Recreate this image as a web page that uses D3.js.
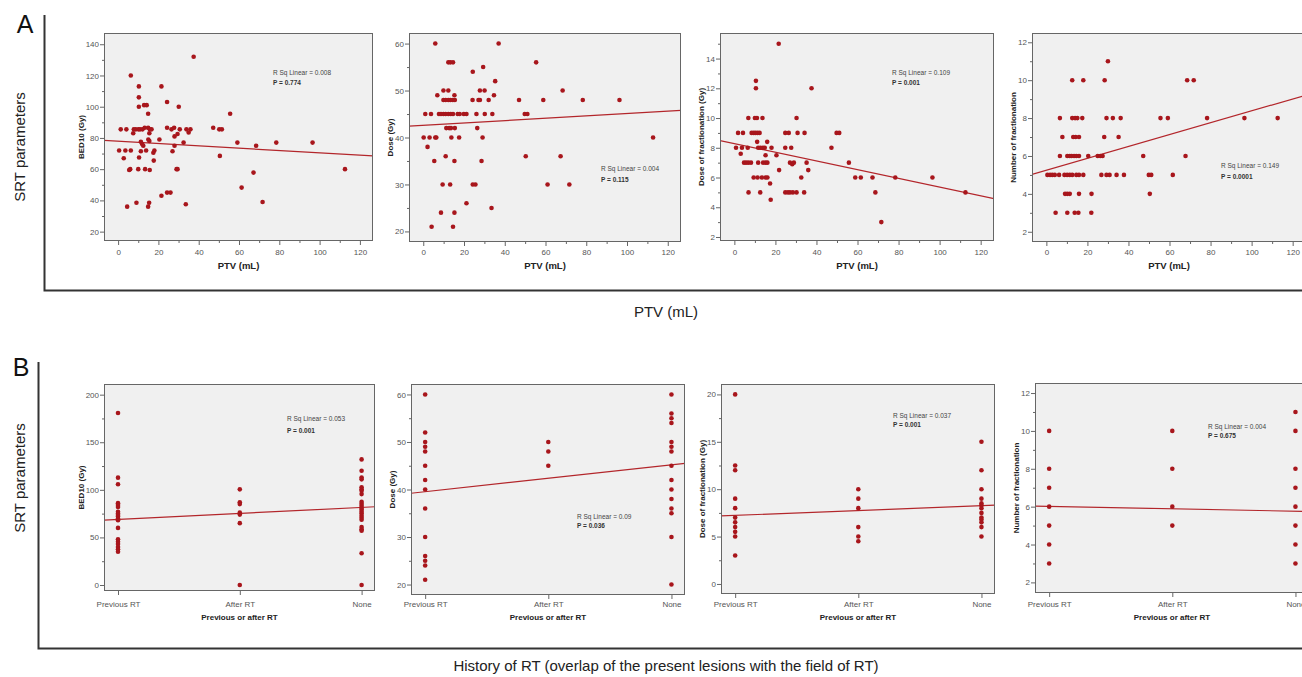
<!DOCTYPE html>
<html>
<head>
<meta charset="utf-8">
<script src="https://cdn.jsdelivr.net/npm/d3@7"></script>
<style>
body { margin: 0; background: #fff; }
svg { display: block; font-family: "Liberation Sans", Arial, sans-serif; }
</style>
</head>
<body>
<svg id="chart" width="1302" height="677"></svg>
<script>
// ------------------------------
// DATA
// ------------------------------

// row A: [PTV (mL), value]
var ptvBed = [[37.5,132],[6.3,120],[10.3,113],[21.5,113],[10.3,106],[24.3,103],[10.3,100],[30.1,100],[12.9,101],[14.2,101],[14.9,95.5],[55.6,95.5],
  [1.3,85.5],[4.1,85.5],[7.8,85.5],[8.8,85.5],[10.1,85.5],[10.9,85.5],[12.1,85.5],[13.2,86.5],[14.9,86.5],[15.7,85.5],[16.6,85.5],[24.3,86.5],[26.5,85.5],
  [27.8,86.5],[30.6,85.5],[33.9,85.5],[35.9,85.5],[47.2,86.5],[50.2,85.5],[51.5,85.5],[7.5,83],[15.5,83],[35,83.5],[28,81],[29.5,82.5],[20.5,79],[15,79],
  [11.3,77.5],[15.5,78],[12,76],[59.2,77],[96.5,77],[78.5,77],[32.5,77],[28,75],[68.5,75],[12.5,75],[0.5,72],[3.6,72],[6.3,72],[11.3,71.5],[13.9,72],[18,72],
  [27,71.5],[17.5,70.5],[2.8,67],[10.4,67.5],[50.5,68.5],[17.7,65.5],[6,60],[5.5,59.5],[10,60],[13.4,60],[15.7,59.5],[29,60],[29.5,60],[112.6,60],
  [67.2,57.8],[61.3,48.2],[24.3,45],[26,45],[21.5,43],[71.7,39],[9.1,38.5],[15.4,38.5],[33.6,37.5],[4.5,36],[14.9,36]];

var ptvDose = [[5.9,60],[37,60],[12.3,56],[13.3,56],[14.6,56],[55.4,56],[29.4,55],[24.3,54],[35.3,52],
  [9.9,50],[12.3,50],[27.8,50],[30.1,50],[68.4,50],[6.9,49],[15.3,49],[34.7,49],
  [9.9,48],[11,48],[12.3,48],[13.3,48],[14.5,48],[15.5,48],[24.2,48],[27.1,48],[27.8,48],[32.1,48],[47,48],[58.9,48],[78.3,48],[96.3,48],
  [1,45],[3.8,45],[7.7,45],[8.7,45],[9.9,45],[11,45],[12.3,45],[13.5,45],[14.6,45],[16.9,45],[17.9,45],[19.9,45],[21.2,45],[26.1,45],[30.2,45],[33.9,45],[49.8,45],[51.1,45],
  [11.3,42],[12.7,42],[13.6,42],[15.5,42],[26.5,42],
  [0.2,40],[3.1,40],[5.9,40],[6.4,40],[13.8,40],[17.6,40],[29.1,40],[112.8,40],
  [2.1,38],[11,36],[50.3,36],[67.4,36],[5.4,35],[15.3,35],[28.6,35],
  [9.5,30],[13.2,30],[24.3,30],[25.6,30],[61,30],[71.7,30],
  [21.2,26],[33.5,25],[8.7,24],[15.3,24],[4.1,21],[14.6,21]];

var ptvDpf = [[21.6,15],[10.5,12.5],[10.5,12],[37.6,12],
  [6.8,10],[10,10],[11,10],[13.7,10],[30.3,10],
  [1.8,9],[4.2,9],[8.4,9],[9.4,9],[10.3,9],[11.3,9],[12.3,9],[24.8,9],[26.5,9],[30.8,9],[34.2,9],[49.8,9],[51.1,9],
  [11.1,8.4],[16,8.4],
  [0.8,8],[3.7,8],[6.5,8],[11.6,8],[12.7,8],[13.9,8],[14.8,8],[18.1,8],[24.8,8],[27.7,8],[47.3,8],
  [3.1,7.6],[15.2,7.5],[20.5,7.5],
  [4.7,7],[5.7,7],[6.8,7],[8.1,7],[11.6,7],[14,7],[15.2,7],[16.1,7],[27.1,7],[28.2,6.9],[29,7],[35.2,7],[55.8,7],
  [21.8,6.5],[36,6.5],
  [9.4,6],[11.3,6],[13.4,6],[15.2,6],[16.1,6],[32.6,6],[58.9,6],[61.6,6],[67.3,6],[78.4,6],[96.5,6],
  [17.4,5.6],
  [6.9,5],[12.6,5],[24.8,5],[26.1,5],[27.1,5],[28.5,5],[30.3,5],[34,5],[68.7,5],[112.6,5],
  [17.7,4.5],[71.6,3]];

var ptvNfx = [[30,11],[12.6,10],[18,10],[28.4,10],[68.6,10],[71.8,10],
  [6.6,8],[12.6,8],[14,8],[15.1,8],[17.5,8],[29.3,8],[32.4,8],[36.2,8],[55.6,8],[59.2,8],[78.3,8],[96.5,8],[112.7,8],
  [7.8,7],[13.1,7],[14.3,7],[15.9,7],[28.2,7],[35.2,7],
  [6.6,6],[10.2,6],[11.4,6],[12.3,6],[13.5,6],[14.6,6],[15.9,6],[20.4,6],[25,6],[26.3,6],[27.4,6],[47.2,6],[67.8,6],
  [0.5,5],[1.8,5],[2.9,5],[4.1,5],[6.2,5],[8.8,5],[10.1,5],[11.4,5],[12.6,5],[14.6,5],[15.9,5],[18,5],[26.8,5],[29.3,5],[30.8,5],[34.2,5],[37.8,5],[49.9,5],[51.1,5],[61.6,5],
  [9.1,4],[10.2,4],[11.4,4],[15.9,4],[22,4],[50.4,4],
  [4.5,3],[10.2,3],[13.8,3],[15.6,3],[21.9,3]];

// row B: one list of values per category, same order as rtCategories
var rtCategories = ["Previous RT", "After RT", "None"];

var rtBed = [[180.7,112.8,105.8,86,84,82,77,75,73.5,72,70,68,60,48,45.5,43,40,37.5,35],
             [100.5,87,85,76,74,65,0],
             [132,120,113,111,102.6,100.5,99,95.5,87.5,85.4,83.3,81,79,77,75,72.8,70.6,68.5,61,58.7,57,33.4,0]];
var rtDose = [[60,52,50,49,48,45,42,40,36,30,26,25,24,21],
              [50,48,45],
              [60,56,55,54,50,49,48,45,42,40,38,36,35,30,20]];
var rtDpf = [[20,12.5,12,9,8,7,6.5,6,5.5,5,3],
             [10,9,8,6,5,4.5],
             [15,12,10,9,8.5,8.3,8,7.5,7,6.8,6.5,6,5]];
var rtNfx = [[10,8,7,6,5,4,3],
             [10,8,6,5],
             [11,10,8,7,6,5,4,3]];

// linear fit lines: [intercept, slope]
var fitLines = [[77.97,-0.0752],[42.58,0.0254],[8.28,-0.0293],[5.25,0.0313],
                [62.7,6.27],[36.7,2.835],[6.73,0.508],[6.145,-0.129]];

var statLabels = [["R Sq Linear = 0.008","P = 0.774"],["R Sq Linear = 0.004","P = 0.115"],
                  ["R Sq Linear = 0.109","P = 0.001"],["R Sq Linear = 0.149","P = 0.0001"],
                  ["R Sq Linear = 0.053","P = 0.001"],["R Sq Linear = 0.09","P = 0.036"],
                  ["R Sq Linear = 0.037","P = 0.001"],["R Sq Linear = 0.004","P = 0.675"]];

var ptvTicks = [0,20,40,60,80,100,120];
var bedTicksA = [20,40,60,80,100,120,140];
var doseTicks = [20,30,40,50,60];
var dpfTicksA = [2,4,6,8,10,12,14];
var nfxTicks = [2,4,6,8,10,12];
var bedTicksB = [0,50,100,150,200];
var dpfTicksB = [0,5,10,15,20];

var yTitles = ["BED10 (Gy)", "Dose (Gy)", "Dose of fractionation (Gy)", "Number of fractionation"];

// flatten category lists into [index, value] pairs (index 1..3)
function byCategory(lists) {
    var out = [];
    lists.forEach(function (vals, i) { vals.forEach(function (v) { out.push([i + 1, v]); }); });
    return out;
}

// ------------------------------
// LAYOUT: boxes are [left, top, right, bottom]
// ------------------------------
var panels = [
    {pts: ptvBed,  row: "A", box: [104,33,373,241],  yDom: [14,147.2],   yTicks: bedTicksA, title: 0, stat: [273,75,85]},
    {pts: ptvDose, row: "A", box: [409,33,681,242],  yDom: [17.75,62.25], yTicks: doseTicks, title: 1, stat: [601,171,182]},
    {pts: ptvDpf,  row: "A", box: [720,33,994,241],  yDom: [1.73,15.72],  yTicks: dpfTicksA, title: 2, stat: [892,75,85]},
    {pts: ptvNfx,  row: "A", box: [1032,33,1306,242], yDom: [1.46,12.49], yTicks: nfxTicks,  title: 3, stat: [1221,168,179]},
    {pts: byCategory(rtBed),  row: "B", box: [104,384,375,591],  yDom: [-6.3,211.2], yTicks: bedTicksB, title: 0, stat: [287,421,433]},
    {pts: byCategory(rtDose), row: "B", box: [411,384,685,595],  yDom: [17.8,62.2],  yTicks: doseTicks, title: 1, stat: [577,519,528]},
    {pts: byCategory(rtDpf),  row: "B", box: [721,384,995,594],  yDom: [-1.06,21.1], yTicks: dpfTicksB, title: 2, stat: [893,418,427]},
    {pts: byCategory(rtNfx),  row: "B", box: [1035,383,1309,593], yDom: [1.44,12.53], yTicks: nfxTicks, title: 3, stat: [1208,429,438]}
];

var rowSpec = {
    A: {xDom: [-7,126.5], xTicks: ptvTicks, fmt: function (d) { return d; }, tickY: 255, titleY: 269, xTitle: "PTV (mL)", titleSize: 9.5},
    B: {xDom: [0.885,3.11], xTicks: [1,2,3], fmt: function (d) { return rtCategories[d - 1]; }, tickY: 607, titleY: 620, xTitle: "Previous or after RT", titleSize: 8}
};

var svg = d3.select("#chart");
var defs = svg.append("defs");
var dotColor = "#a8161c", lineColor = "#b3262b";

// minor ticks halfway between majors, plus one step past each end if it is still inside the domain
function minorTicks(ticks, dom) {
    var step = ticks[1] - ticks[0], out = [];
    var lo = Math.min(dom[0], dom[1]), hi = Math.max(dom[0], dom[1]);
    for (var v = ticks[0] - step / 2; v <= ticks[ticks.length - 1] + step / 2; v += step) {
        if (v >= lo && v <= hi) out.push(v);
    }
    return out;
}

panels.forEach(function (p, i) {
    var spec = rowSpec[p.row];
    var L = p.box[0], T = p.box[1], R = p.box[2], B = p.box[3];
    var x = d3.scaleLinear().domain(spec.xDom).range([L, R]);
    var y = d3.scaleLinear().domain(p.yDom).range([B, T]);
    var g = svg.append("g");

    defs.append("clipPath").attr("id", "clip" + i)
        .append("rect").attr("x", L).attr("y", T).attr("width", R - L).attr("height", B - T);

    g.append("rect").attr("x", L).attr("y", T).attr("width", R - L).attr("height", B - T)
        .attr("fill", "#f0f0f0");

    // fit line across the whole box
    var fit = fitLines[i];
    g.append("line").attr("clip-path", "url(#clip" + i + ")")
        .attr("x1", x(spec.xDom[0])).attr("y1", y(fit[0] + fit[1] * spec.xDom[0]))
        .attr("x2", x(spec.xDom[1])).attr("y2", y(fit[0] + fit[1] * spec.xDom[1]))
        .attr("stroke", lineColor).attr("stroke-width", 1.2);

    g.append("g").selectAll("circle").data(p.pts).enter().append("circle")
        .attr("cx", function (d) { return x(d[0]); })
        .attr("cy", function (d) { return y(d[1]); })
        .attr("r", 2.3)
        .attr("fill", dotColor);

    g.append("rect").attr("x", L + 0.5).attr("y", T + 0.5).attr("width", R - L - 1).attr("height", B - T - 1)
        .attr("fill", "none").attr("stroke", "#666").attr("stroke-width", 1);

    // y axis (major + minor)
    var ya = g.append("g").attr("class", "axis").attr("transform", "translate(" + L + ",0)")
        .call(d3.axisLeft(y).tickValues(p.yTicks).tickSize(4).tickPadding(1));
    g.append("g").attr("transform", "translate(" + L + ",0)")
        .call(d3.axisLeft(y).tickValues(minorTicks(p.yTicks, p.yDom)).tickSize(2).tickFormat(""))
        .select(".domain").remove();

    // x axis
    var xa = g.append("g").attr("class", "axis").attr("transform", "translate(0," + B + ")")
        .call(d3.axisBottom(x).tickValues(spec.xTicks).tickSize(4).tickFormat(spec.fmt));
    xa.selectAll("text").attr("y", spec.tickY - B).attr("dy", 0);
    if (p.row == "A") {
        g.append("g").attr("transform", "translate(0," + B + ")")
            .call(d3.axisBottom(x).tickValues(minorTicks(spec.xTicks, spec.xDom)).tickSize(2).tickFormat(""))
            .select(".domain").remove();
    }

    g.selectAll(".domain").remove();
    g.selectAll(".tick line").attr("stroke", "#666");
    g.selectAll(".axis text").attr("font-size", 8).attr("fill", "#555")
        .attr("font-family", "'Liberation Sans', Arial, sans-serif");

    // axis titles; the y title sits just left of the widest tick label
    var lb = ya.node().getBBox();
    var titleX = L + lb.x - 2;
    g.append("text")
        .attr("transform", "translate(" + titleX + "," + ((T + B) / 2) + ") rotate(-90)")
        .attr("text-anchor", "middle").attr("font-size", 8).attr("font-weight", "bold").attr("fill", "#222")
        .text(yTitles[p.title]);
    g.append("text").attr("x", (L + R) / 2).attr("y", spec.titleY)
        .attr("text-anchor", "middle").attr("font-size", spec.titleSize).attr("font-weight", "bold").attr("fill", "#222")
        .text(spec.xTitle);

    // R squared + P
    g.append("text").attr("x", p.stat[0]).attr("y", p.stat[1]).attr("font-size", 6.5).attr("fill", "#444")
        .text(statLabels[i][0]);
    g.append("text").attr("x", p.stat[0]).attr("y", p.stat[2]).attr("font-size", 6.5).attr("font-weight", "bold").attr("fill", "#333")
        .text(statLabels[i][1]);
});

// ------------------------------
// outer frame, panel letters and shared labels
// ------------------------------
var frame = [
    {letter: "A", lx: 25, ly: 33, vx: 44.5, top: 15, bottom: 290.5, yLabelY: 147, xLabel: "PTV (mL)", xLabelY: 317},
    {letter: "B", lx: 21, ly: 376, vx: 38.5, top: 362, bottom: 648.5, yLabelY: 478,
     xLabel: "History of RT (overlap of the present lesions with the field of RT)", xLabelY: 671}
];

frame.forEach(function (f) {
    svg.append("path")
        .attr("d", "M" + f.vx + "," + f.top + "V" + f.bottom + "H1302")
        .attr("fill", "none").attr("stroke", "#333").attr("stroke-width", 2);
    svg.append("text").attr("x", f.lx).attr("y", f.ly).attr("text-anchor", "middle")
        .attr("font-size", 25).attr("fill", "#111").text(f.letter);
    svg.append("text").attr("transform", "translate(25," + f.yLabelY + ") rotate(-90)")
        .attr("text-anchor", "middle").attr("font-size", 15).attr("fill", "#222").text("SRT parameters");
    svg.append("text").attr("x", 666).attr("y", f.xLabelY).attr("text-anchor", "middle")
        .attr("font-size", 15).attr("fill", "#222").text(f.xLabel);
});
</script>
</body>
</html>
